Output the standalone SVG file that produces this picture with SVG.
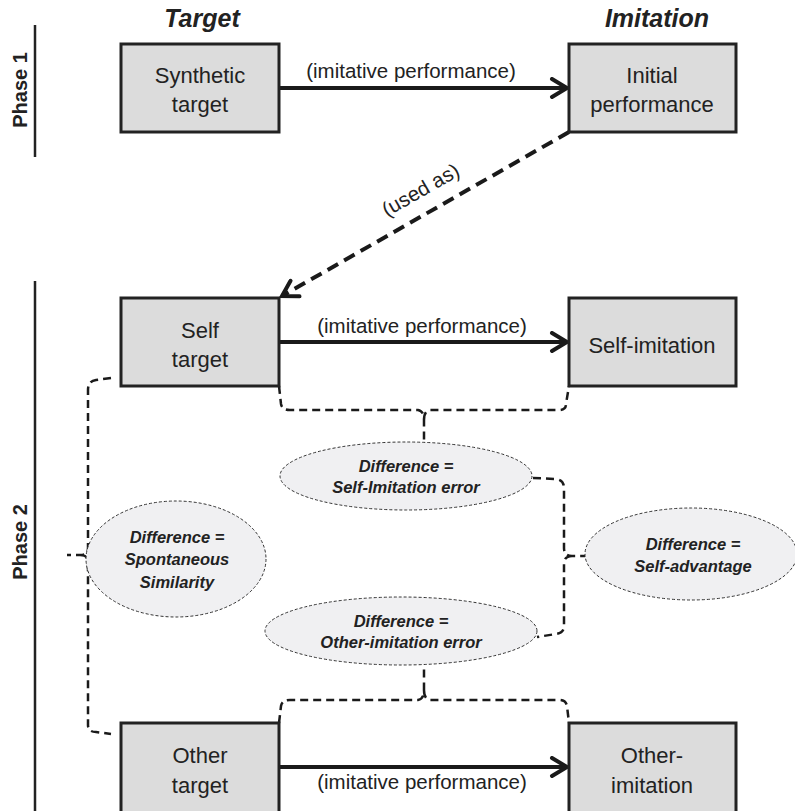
<svg xmlns="http://www.w3.org/2000/svg" width="795" height="811" viewBox="0 0 795 811">
<style>
text{font-family:"Liberation Sans",Arial,sans-serif;fill:#222;text-anchor:middle}
.box rect{fill:#dcdcdc;stroke:#222;stroke-width:3}
.box text{font-size:22px}
.ell ellipse{fill:#f0f0f2;stroke:#333;stroke-width:1;stroke-dasharray:3 2}
.ell text{font-size:16.5px;font-weight:bold;font-style:italic}
.hdr{font-size:25px;font-weight:bold;font-style:italic}
.phase{font-size:20px;font-weight:bold}
.lbl{font-size:20.5px}
.arrow{stroke:#1a1a1a;stroke-width:4;fill:none}
.dash{stroke-dasharray:12 7}
.brk{stroke:#1a1a1a;stroke-width:2.5;fill:none;stroke-dasharray:8 5}
.pline{stroke:#222;stroke-width:2.5}
</style>
<defs>
<marker id="ah" markerUnits="userSpaceOnUse" viewBox="0 0 22 22" refX="19" refY="11" markerWidth="22" markerHeight="22" orient="auto">
<path d="M4,2 L19,11 L4,20" fill="none" stroke="#1a1a1a" stroke-width="4" stroke-linecap="round" stroke-linejoin="miter"/>
</marker>
</defs>
<g id="headers">
<text class="hdr" x="202" y="27">Target</text>
<text class="hdr" x="657" y="27">Imitation</text>
</g>
<g id="phases">
<line class="pline" x1="35" y1="25" x2="35" y2="157"/>
<text class="phase" transform="translate(27,90) rotate(-90)" x="0" y="0">Phase 1</text>
<line class="pline" x1="35" y1="281" x2="35" y2="811"/>
<text class="phase" transform="translate(27,542) rotate(-90)" x="0" y="0">Phase 2</text>
</g>
<g id="connectors">
<line class="arrow" x1="279" y1="88" x2="567" y2="88" marker-end="url(#ah)"/>
<text class="lbl" x="411" y="78">(imitative performance)</text>
<line class="arrow dash" x1="569" y1="132" x2="282" y2="296" marker-end="url(#ah)"/>
<text class="lbl" transform="translate(424,196) rotate(-29.8)" x="0" y="0">(used as)</text>
<line class="arrow" x1="279" y1="342" x2="567" y2="342" marker-end="url(#ah)"/>
<text class="lbl" x="422" y="333">(imitative performance)</text>
<line class="arrow" x1="279" y1="767" x2="567" y2="767" marker-end="url(#ah)"/>
<text class="lbl" x="422" y="789">(imitative performance)</text>
<path class="brk" d="M279,386 L281,404 Q282,410 290,410 L418,410 Q424,411 424,420 L424,442 M424,420 Q424,411 430,410 L559,410 Q566,410 566,404 L569,386"/>
<path class="brk" d="M111,378 L96,380 Q88,381 88,390 L88,548 Q88,555 80,555 L67,555 M80,555 Q88,555 88,562 L88,725 Q88,732 96,732 L111,734"/>
<path class="brk" d="M533,478 L556,479 Q564,480 564,488 L564,548 Q564,556 572,556 L585,556 M572,556 Q564,556 564,564 L564,626 Q564,633 556,634 L537,637"/>
<path class="brk" d="M279,723 L281,706 Q282,700 290,700 L418,700 Q424,699 424,690 L424,665 M424,690 Q424,699 430,700 L559,700 Q566,700 567,706 L569,723"/>
</g>
<g id="synthetic-target" class="box">
<rect x="121" y="44" width="158" height="88"/>
<text x="200" y="83">Synthetic</text>
<text x="200" y="112">target</text>
</g>
<g id="initial-performance" class="box">
<rect x="569" y="44" width="167" height="88"/>
<text x="652" y="83">Initial</text>
<text x="652" y="112">performance</text>
</g>
<g id="self-target" class="box">
<rect x="121" y="298" width="158" height="88"/>
<text x="200" y="338">Self</text>
<text x="200" y="367">target</text>
</g>
<g id="self-imitation" class="box">
<rect x="569" y="298" width="167" height="88"/>
<text x="652" y="353">Self-imitation</text>
</g>
<g id="other-target" class="box">
<rect x="121" y="723" width="158" height="100"/>
<text x="200" y="763">Other</text>
<text x="200" y="793">target</text>
</g>
<g id="other-imitation" class="box">
<rect x="569" y="723" width="167" height="100"/>
<text x="652" y="763">Other-</text>
<text x="652" y="793">imitation</text>
</g>
<g id="self-imitation-error" class="ell">
<ellipse cx="406" cy="476" rx="126" ry="34"/>
<text x="406" y="472">Difference =</text>
<text x="406" y="493">Self-Imitation error</text>
</g>
<g id="spontaneous-similarity" class="ell">
<ellipse cx="176" cy="559" rx="90" ry="58"/>
<text x="177" y="543">Difference =</text>
<text x="177" y="565">Spontaneous</text>
<text x="177" y="588">Similarity</text>
</g>
<g id="self-advantage" class="ell">
<ellipse cx="691" cy="554" rx="106" ry="46"/>
<text x="693" y="550">Difference =</text>
<text x="693" y="572">Self-advantage</text>
</g>
<g id="other-imitation-error" class="ell">
<ellipse cx="401" cy="631" rx="136" ry="34"/>
<text x="401" y="627">Difference =</text>
<text x="401" y="648">Other-imitation error</text>
</g>
</svg>
